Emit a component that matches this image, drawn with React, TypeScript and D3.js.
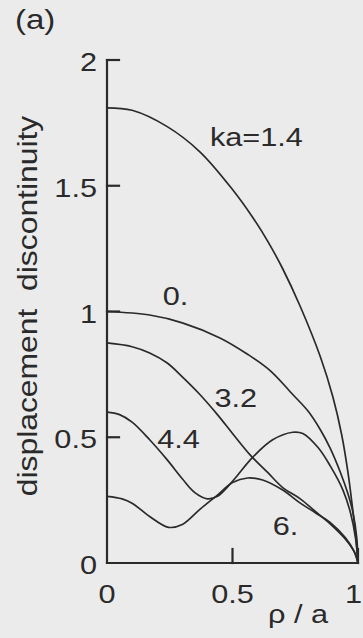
import React from "react";
import * as d3 from "d3";

// Displacement discontinuity across the crack face vs. normalised radius rho/a,
// one curve per dimensionless wavenumber ka.
const kaLabels = ["ka=1.4", "0.", "3.2", "4.4", "6."];

const curveKa14: [number, number][] = [
  [0, 1.81], [0.1, 1.8], [0.24, 1.735], [0.37, 1.635], [0.5, 1.485], [0.58, 1.375],
  [0.64, 1.28], [0.7, 1.17], [0.77, 1.02], [0.85, 0.82], [0.9, 0.66],
  [0.935, 0.51], [0.96, 0.36], [0.978, 0.22], [0.992, 0.1], [1, 0],
];
const curveKa0: [number, number][] = [
  [0, 1.0], [0.17, 0.986], [0.3, 0.955], [0.45, 0.895], [0.56, 0.83], [0.65, 0.765],
  [0.74, 0.67], [0.8, 0.605], [0.85, 0.53], [0.89, 0.455], [0.93, 0.36],
  [0.96, 0.275], [0.98, 0.2], [0.995, 0.1], [1, 0],
];
const curveKa32: [number, number][] = [
  [0, 0.875], [0.1, 0.86], [0.17, 0.835], [0.24, 0.795], [0.3, 0.74], [0.37, 0.67],
  [0.44, 0.59], [0.5, 0.515], [0.57, 0.43], [0.64, 0.36], [0.7, 0.3], [0.77, 0.255],
  [0.83, 0.205], [0.89, 0.155], [0.95, 0.095], [0.985, 0.045], [1, 0],
];
const curveKa44: [number, number][] = [
  [0, 0.6], [0.05, 0.59], [0.1, 0.56], [0.17, 0.49], [0.24, 0.41], [0.3, 0.335],
  [0.35, 0.28], [0.4, 0.255], [0.44, 0.265], [0.5, 0.325], [0.58, 0.42], [0.66, 0.49],
  [0.74, 0.52], [0.78, 0.515], [0.84, 0.46], [0.89, 0.385], [0.94, 0.29],
  [0.97, 0.2], [0.99, 0.1], [1, 0],
];
const curveKa6: [number, number][] = [
  [0, 0.265], [0.06, 0.255], [0.1, 0.238], [0.17, 0.185], [0.245, 0.142], [0.3, 0.153],
  [0.37, 0.213], [0.44, 0.27], [0.5, 0.32], [0.56, 0.338], [0.62, 0.33], [0.7, 0.29],
  [0.77, 0.238], [0.83, 0.2], [0.89, 0.16], [0.95, 0.1], [0.985, 0.045], [1, 0],
];

const yTicks = [0, 0.5, 1, 1.5, 2];
const yTickLabels = ["0", "0.5", "1", "1.5", "2"];
const xTicks = [0, 0.5, 1];
const xTickLabels = ["0", "0.5", "1"];

const W = 363;
const H = 638;
const FONT = "'Liberation Sans', Arial, Helvetica, sans-serif";
const INK = "#2a2a2a";
const STRETCH = 1.18;

export default function App() {
  const x = d3.scaleLinear().domain([0, 1]).range([107, 358]);
  const y = d3.scaleLinear().domain([0, 2]).range([563, 60]);
  const line = d3
    .line<[number, number]>()
    .x((d) => x(d[0]))
    .y((d) => y(d[1]))
    .curve(d3.curveCatmullRom.alpha(0.5));

  const series = [curveKa14, curveKa0, curveKa32, curveKa44, curveKa6];
  // label anchor points (start of text, baseline) in data units
  const labelPos: [number, number][] = [
    [0.41, 1.66], [0.222, 1.026], [0.428, 0.62], [0.2, 0.457], [0.66, 0.11],
  ];

  const txt = (
    s: string,
    px: number,
    py: number,
    size: number,
    anchor: "start" | "middle" | "end" = "start",
    key?: string
  ) => (
    <text
      key={key ?? s + px + py}
      transform={`translate(${px},${py}) scale(${STRETCH},1)`}
      textAnchor={anchor}
      fontSize={size}
      fontFamily={FONT}
      fill={INK}
    >
      {s}
    </text>
  );

  return (
    <div style={{ position: "fixed", left: 0, top: 0, width: W, height: H }}>
      <svg width={W} height={H} viewBox={`0 0 ${W} ${H}`} style={{ display: "block" }}>
        <rect x={0} y={0} width={W} height={H} fill="#ebebeb" />

        {txt("(a)", 15, 29, 28)}

        {/* axes */}
        <g stroke={INK} strokeWidth={2.2} fill="none" strokeLinecap="square">
          <line x1={x(0)} y1={y(0)} x2={x(0)} y2={y(2)} />
          <line x1={x(0)} y1={y(0)} x2={x(1)} y2={y(0)} />
          {yTicks.slice(1).map((t) => (
            <line key={"yt" + t} x1={x(0)} x2={x(0) + 12} y1={y(t)} y2={y(t)} />
          ))}
          {xTicks.slice(1).map((t) => (
            <line key={"xt" + t} x1={x(t)} x2={x(t)} y1={y(0)} y2={y(0) - 14} />
          ))}
        </g>

        {yTicks.map((t, i) => txt(yTickLabels[i], 97, y(t) + 11, 26, "end", "yl" + t))}
        {xTicks.map((t, i) =>
          t === 1
            ? txt(xTickLabels[i], 362, 603, 26, "end", "xl" + t)
            : txt(xTickLabels[i], x(t), 603, 26, "middle", "xl" + t)
        )}

        {txt("\u03c1 / a", 268, 623, 26, "start", "xtitle")}

        <text
          transform={`translate(37,306) rotate(-90) scale(${STRETCH},1)`}
          textAnchor="middle"
          fontSize={27}
          fontFamily={FONT}
          fill={INK}
          style={{ whiteSpace: "pre" }}
        >
          {"displacement  discontinuity"}
        </text>

        {/* curves */}
        <g fill="none" stroke={INK} strokeWidth={1.7}>
          {series.map((s, i) => (
            <path key={"c" + i} d={line(s) ?? ""} />
          ))}
        </g>

        {kaLabels.map((l, i) => txt(l, x(labelPos[i][0]), y(labelPos[i][1]), 26, "start", "kl" + i))}
      </svg>
    </div>
  );
}
